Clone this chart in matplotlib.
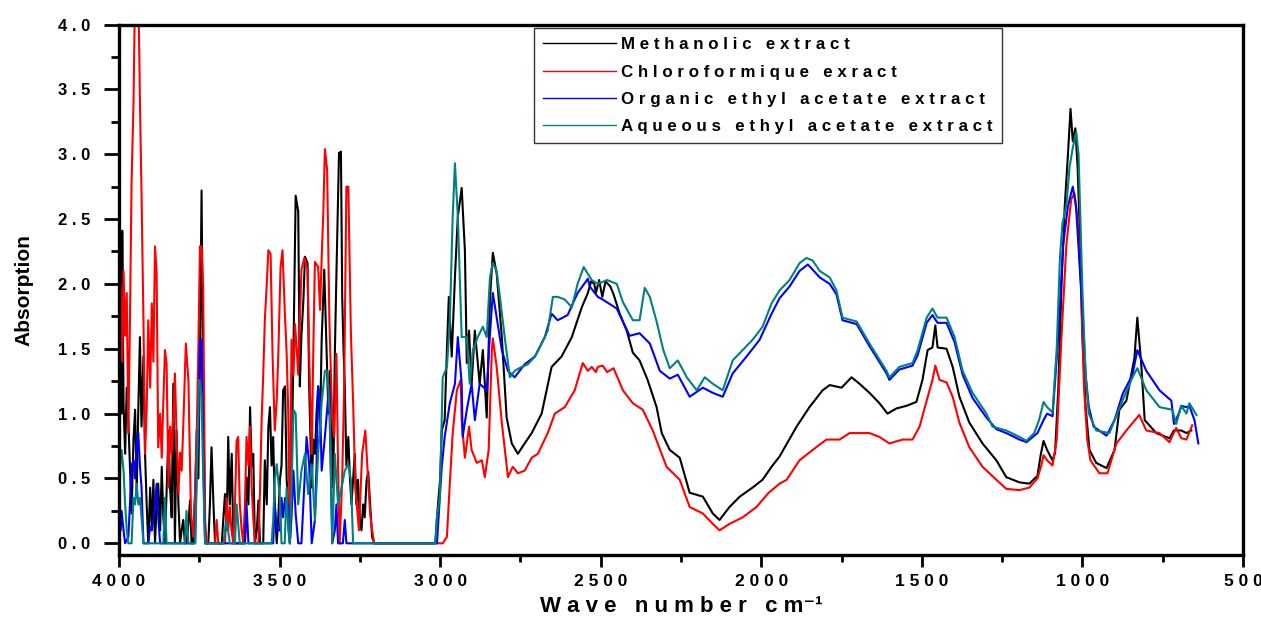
import numpy as np
import matplotlib
matplotlib.use("Agg")
import matplotlib.pyplot as plt
from matplotlib.ticker import MultipleLocator

plt.rcParams['font.family'] = ['Liberation Sans', 'DejaVu Sans']
plt.rcParams['font.weight'] = 'bold'

# (wave number, absorption) pairs
methanolic = [
    (4000, 2.2), (3997, 1.3), (3994, 2.0), (3992, 1.0), (3990, 2.41), (3986, 1.08), (3981, 0.69),
    (3976, 1.2), (3971, 0.95), (3966, 0.6), (3961, 0.23), (3955, 0.8), (3950, 1.03), (3945, 0.4),
    (3940, 1.03), (3935, 1.59), (3930, 0.9), (3924, 1.44), (3919, 0.69), (3914, 0.3), (3909, 0.0),
    (3903, 0.43), (3898, 0.1), (3893, 0.49), (3888, 0.0), (3883, 0.3), (3878, 0.46), (3872, 0.1),
    (3867, 0.59), (3862, 0.2), (3857, 0.0), (3852, 0.4), (3846, 0.87), (3841, 0.43), (3836, 0.2),
    (3831, 1.23), (3826, 0.0), (3821, 0.87), (3815, 0.3), (3810, 0.0), (3805, 0.1), (3800, 0.18),
    (3795, 0.0), (3790, 0.0), (3784, 0.15), (3779, 0.33), (3774, 0.0), (3769, 0.0), (3763, 0.4),
    (3758, 0.87), (3753, 0.5), (3748, 1.46), (3743, 2.72), (3738, 1.21), (3732, 0.0), (3722, 0.0),
    (3717, 0.3), (3712, 0.74), (3706, 0.3), (3701, 0.0), (3680, 0.0), (3675, 0.2), (3670, 0.38),
    (3665, 0.1), (3660, 0.82), (3655, 0.3), (3649, 0.69), (3644, 0.0), (3608, 0.0), (3603, 0.51),
    (3597, 0.3), (3592, 1.05), (3587, 0.6), (3582, 0.69), (3577, 0.0), (3571, 0.1), (3566, 0.33),
    (3561, 0.0), (3551, 0.0), (3546, 0.64), (3540, 0.3), (3535, 0.9), (3530, 1.05), (3525, 0.6),
    (3520, 0.82), (3515, 0.3), (3509, 0.0), (3504, 0.2), (3499, 0.49), (3494, 0.6), (3489, 1.18),
    (3483, 1.21), (3478, 0.49), (3473, 0.3), (3468, 0.0), (3463, 0.5), (3457, 1.46), (3450, 2.68),
    (3442, 2.56), (3437, 1.21), (3432, 1.6), (3426, 1.87), (3421, 2.21), (3413, 2.16), (3408, 1.21),
    (3400, 0.43), (3395, 0.8), (3390, 0.69), (3385, 1.0), (3380, 1.21), (3374, 0.9), (3369, 1.57),
    (3361, 2.11), (3354, 1.51), (3348, 1.0), (3343, 1.33), (3338, 0.9), (3333, 0.43), (3328, 1.46),
    (3323, 2.08), (3315, 3.01), (3309, 3.02), (3305, 1.9), (3301, 1.5), (3297, 1.21), (3292, 0.6),
    (3286, 0.82), (3281, 0.5), (3276, 0.3), (3271, 0.5), (3266, 0.69), (3261, 0.3), (3256, 0.49),
    (3250, 0.18), (3245, 0.1), (3240, 0.3), (3235, 0.2), (3229, 0.49), (3224, 0.55), (3218, 0.3),
    (3212, 0.05), (3205, 0.0), (3015, 0.0),
    (3010, 0.2), (3000, 0.5), (2995, 0.87), (2986, 0.95), (2979, 1.49), (2973, 1.9), (2964, 1.44),
    (2954, 2.05), (2945, 2.52), (2933, 2.74), (2923, 2.26), (2917, 1.39), (2910, 1.64), (2902, 1.23),
    (2892, 1.64), (2877, 1.23), (2867, 1.49), (2855, 0.97), (2845, 1.88), (2836, 2.24), (2824, 2.08),
    (2808, 1.59), (2793, 0.97), (2777, 0.77), (2758, 0.69), (2737, 0.77), (2715, 0.85), (2684, 1.0),
    (2653, 1.36), (2622, 1.44), (2590, 1.59), (2559, 1.82), (2540, 1.93), (2530, 2.02), (2520, 2.0),
    (2515, 1.93), (2505, 2.03), (2495, 1.9), (2485, 2.02), (2470, 1.98), (2460, 1.92), (2441, 1.77),
    (2419, 1.64), (2400, 1.47), (2379, 1.41), (2354, 1.26), (2326, 1.05), (2310, 0.85), (2285, 0.72),
    (2254, 0.66), (2223, 0.39), (2182, 0.36), (2151, 0.23), (2130, 0.18), (2099, 0.28), (2067, 0.36),
    (2027, 0.43), (1996, 0.49), (1968, 0.59), (1943, 0.67), (1890, 0.9), (1850, 1.05), (1809, 1.18),
    (1787, 1.22), (1750, 1.2), (1719, 1.28), (1694, 1.23), (1663, 1.16), (1632, 1.08), (1607, 1.0),
    (1579, 1.04), (1548, 1.06), (1517, 1.09), (1498, 1.26), (1482, 1.49), (1467, 1.51), (1458, 1.68),
    (1451, 1.51), (1423, 1.5), (1404, 1.36), (1383, 1.13), (1352, 0.93), (1311, 0.77), (1268, 0.64),
    (1237, 0.51), (1196, 0.47), (1165, 0.46), (1140, 0.52), (1130, 0.68), (1121, 0.79), (1110, 0.72),
    (1093, 0.64), (1085, 0.7), (1075, 1.2), (1065, 2.0), (1055, 2.6), (1045, 3.0), (1037, 3.35),
    (1030, 3.1), (1022, 3.2), (1015, 2.9), (1008, 2.4), (1000, 1.6), (990, 1.05), (978, 0.72),
    (957, 0.62), (925, 0.58), (900, 0.72), (885, 1.03), (863, 1.1), (838, 1.43), (829, 1.74),
    (817, 1.39), (806, 0.95), (770, 0.85), (729, 0.81), (715, 0.87), (692, 0.87), (676, 0.85),
    (661, 0.87),
]

chloroform = [
    (4000, 1.5), (3995, 2.0), (3990, 1.4), (3986, 2.1), (3981, 1.6), (3976, 1.93), (3971, 0.85),
    (3966, 1.72), (3961, 2.78), (3955, 3.39), (3950, 4.3), (3940, 4.3), (3935, 3.42), (3930, 2.7),
    (3924, 1.72), (3919, 0.69), (3914, 1.03), (3909, 1.72), (3903, 1.2), (3898, 1.85), (3893, 1.4),
    (3888, 2.29), (3883, 2.08), (3878, 0.74), (3872, 1.0), (3867, 0.66), (3862, 1.1), (3857, 1.49),
    (3852, 1.39), (3846, 0.43), (3841, 0.9), (3836, 0.69), (3831, 1.0), (3826, 1.31), (3821, 0.85),
    (3815, 0.38), (3810, 0.7), (3805, 0.56), (3800, 0.9), (3792, 1.54), (3784, 1.26), (3776, 0.23),
    (3769, 0.05), (3763, 0.4), (3758, 0.87), (3753, 1.5), (3748, 2.29), (3743, 2.29), (3738, 1.98),
    (3732, 0.18), (3727, 0.0), (3701, 0.0), (3696, 0.18), (3691, 0.0), (3670, 0.0), (3665, 0.35),
    (3660, 0.1), (3655, 0.28), (3650, 0.1), (3644, 0.0), (3639, 0.3), (3634, 0.79), (3629, 0.82),
    (3624, 0.3), (3618, 0.1), (3613, 0.0), (3608, 0.3), (3603, 0.82), (3597, 0.6), (3592, 0.9),
    (3587, 0.43), (3582, 0.2), (3577, 0.0), (3566, 0.0), (3561, 0.4), (3556, 0.95), (3551, 1.3),
    (3546, 1.72), (3540, 2.0), (3535, 2.26), (3528, 2.23), (3522, 1.46), (3515, 0.87), (3509, 1.1),
    (3504, 1.46), (3497, 2.13), (3491, 2.26), (3484, 1.8), (3478, 1.46), (3473, 1.0), (3468, 0.0),
    (3463, 1.57), (3457, 1.3), (3452, 1.69), (3447, 1.51), (3442, 1.3), (3437, 1.7), (3432, 2.11),
    (3423, 2.2), (3413, 2.11), (3408, 1.46), (3400, 0.69), (3395, 1.5), (3390, 2.17), (3380, 2.13),
    (3374, 1.8), (3369, 2.2), (3364, 2.54), (3359, 3.04), (3352, 2.88), (3345, 1.72), (3336, 0.95),
    (3330, 0.82), (3323, 1.46), (3318, 0.6), (3313, 0.0), (3305, 0.5), (3299, 1.21), (3292, 2.75),
    (3286, 2.75), (3278, 1.62), (3271, 1.08), (3264, 0.43), (3253, 0.1), (3243, 0.69), (3233, 0.87),
    (3226, 0.56), (3218, 0.23), (3212, 0.1), (3205, 0.0), (2992, 0.0),
    (2979, 0.05), (2970, 0.46), (2961, 0.85), (2948, 1.18), (2936, 1.26), (2933, 0.95), (2923, 0.66),
    (2910, 0.9), (2902, 0.72), (2886, 0.62), (2870, 0.64), (2861, 0.51), (2849, 0.72), (2839, 1.49),
    (2836, 1.58), (2824, 1.36), (2808, 0.93), (2789, 0.51), (2774, 0.59), (2758, 0.54), (2737, 0.56),
    (2715, 0.66), (2696, 0.69), (2665, 0.85), (2643, 1.0), (2612, 1.05), (2581, 1.18), (2556, 1.39),
    (2540, 1.33), (2528, 1.36), (2515, 1.32), (2509, 1.36), (2494, 1.37), (2480, 1.32), (2460, 1.35),
    (2431, 1.18), (2400, 1.08), (2369, 1.03), (2338, 0.87), (2295, 0.59), (2254, 0.49), (2223, 0.28),
    (2182, 0.23), (2151, 0.15), (2130, 0.1), (2099, 0.15), (2058, 0.2), (2015, 0.28), (1977, 0.39),
    (1943, 0.46), (1921, 0.49), (1881, 0.64), (1840, 0.72), (1797, 0.8), (1756, 0.8), (1725, 0.85),
    (1663, 0.85), (1632, 0.82), (1601, 0.77), (1560, 0.8), (1529, 0.8), (1507, 0.9), (1485, 1.1),
    (1467, 1.26), (1458, 1.37), (1445, 1.26), (1423, 1.24), (1404, 1.13), (1383, 0.93), (1352, 0.74),
    (1311, 0.59), (1268, 0.49), (1237, 0.42), (1196, 0.41), (1165, 0.43), (1140, 0.5), (1128, 0.6),
    (1121, 0.68), (1110, 0.64), (1093, 0.6), (1080, 0.8), (1065, 1.6), (1050, 2.3), (1035, 2.65),
    (1025, 2.7), (1015, 2.5), (1005, 2.0), (995, 1.2), (985, 0.8), (975, 0.64), (947, 0.54),
    (922, 0.54), (894, 0.77), (863, 0.87), (823, 0.99), (801, 0.87), (760, 0.85), (729, 0.78),
    (708, 0.89), (692, 0.81), (676, 0.8), (658, 0.91),
]

organic_ea = [
    (4000, 0.2), (3995, 0.1), (3992, 0.25), (3986, 0.1), (3981, 0.0), (3971, 0.05), (3966, 0.3),
    (3961, 0.6), (3955, 0.64), (3950, 0.5), (3945, 0.8), (3940, 0.85), (3935, 0.6), (3930, 0.43),
    (3924, 0.0), (3909, 0.0), (3903, 0.13), (3898, 0.1), (3893, 0.18), (3888, 0.3), (3883, 0.46),
    (3878, 0.2), (3872, 0.0), (3763, 0.0), (3758, 0.59), (3753, 0.8), (3748, 1.57), (3743, 1.57),
    (3738, 0.69), (3732, 0.0), (3608, 0.0), (3603, 0.3), (3597, 0.0), (3520, 0.0), (3515, 0.3),
    (3509, 0.1), (3499, 0.1), (3494, 0.35), (3489, 0.2), (3483, 0.35), (3478, 0.3), (3473, 0.3),
    (3468, 0.0), (3463, 0.2), (3457, 0.56), (3450, 0.23), (3442, 0.0), (3432, 0.0), (3426, 0.3),
    (3416, 0.82), (3408, 0.61), (3400, 0.0), (3390, 0.18), (3385, 0.6), (3380, 1.21), (3374, 1.08),
    (3369, 0.56), (3359, 0.82), (3346, 1.21), (3340, 0.5), (3336, 0.0), (3328, 0.1), (3323, 0.3),
    (3318, 0.0), (3303, 0.0), (3297, 0.18), (3292, 0.0), (3010, 0.0),
    (3005, 0.2), (2995, 0.59), (2986, 0.82), (2970, 1.08), (2954, 1.23), (2945, 1.59), (2933, 1.23),
    (2930, 0.82), (2917, 1.03), (2902, 1.23), (2892, 0.95), (2877, 1.23), (2855, 1.18), (2845, 1.61),
    (2836, 1.93), (2824, 1.74), (2808, 1.49), (2789, 1.33), (2768, 1.28), (2737, 1.38), (2705, 1.44),
    (2674, 1.59), (2653, 1.77), (2634, 1.72), (2603, 1.76), (2572, 1.93), (2540, 2.04), (2534, 1.98),
    (2509, 1.9), (2494, 1.88), (2450, 1.81), (2410, 1.6), (2379, 1.62), (2347, 1.54), (2316, 1.33),
    (2285, 1.27), (2260, 1.3), (2223, 1.13), (2182, 1.2), (2151, 1.16), (2120, 1.13), (2089, 1.31),
    (2046, 1.44), (2005, 1.57), (1968, 1.77), (1943, 1.89), (1912, 1.98), (1881, 2.1), (1855, 2.15),
    (1818, 2.05), (1787, 2.0), (1766, 1.92), (1747, 1.72), (1703, 1.69), (1663, 1.52), (1610, 1.31),
    (1601, 1.26), (1570, 1.34), (1529, 1.37), (1513, 1.45), (1485, 1.7), (1467, 1.76), (1451, 1.7),
    (1423, 1.7), (1398, 1.55), (1373, 1.3), (1342, 1.12), (1299, 0.97), (1268, 0.88), (1237, 0.85),
    (1196, 0.8), (1174, 0.78), (1140, 0.85), (1121, 0.95), (1110, 1.0), (1093, 0.98), (1075, 1.6),
    (1060, 2.3), (1045, 2.6), (1030, 2.75), (1020, 2.6), (1010, 2.2), (1000, 1.8), (990, 1.3),
    (980, 1.05), (965, 0.9), (925, 0.83), (900, 0.95), (875, 1.15), (844, 1.3), (829, 1.49),
    (801, 1.33), (760, 1.18), (723, 1.1), (715, 0.92), (700, 1.0), (692, 1.06), (676, 1.05),
    (667, 1.06), (651, 0.95), (639, 0.77),
]

aqueous_ea = [
    (4000, 0.3), (3996, 0.6), (3992, 0.72), (3986, 0.56), (3981, 0.3), (3976, 0.1), (3971, 0.0),
    (3961, 0.0), (3955, 0.35), (3950, 0.3), (3945, 0.46), (3940, 0.3), (3935, 0.35), (3930, 0.2),
    (3924, 0.0), (3862, 0.0), (3857, 0.35), (3852, 0.0), (3795, 0.0), (3790, 0.25), (3784, 0.0),
    (3763, 0.0), (3758, 0.51), (3751, 1.26), (3743, 1.15), (3738, 0.51), (3732, 0.0), (3675, 0.0),
    (3670, 0.1), (3665, 0.18), (3655, 0.0), (3639, 0.0), (3634, 0.3), (3624, 0.0), (3525, 0.0),
    (3520, 0.18), (3515, 0.49), (3509, 0.61), (3499, 0.35), (3494, 0.0), (3484, 0.0), (3478, 0.43),
    (3473, 0.1), (3468, 0.0), (3463, 0.4), (3457, 1.03), (3450, 1.0), (3442, 0.3), (3432, 0.56),
    (3421, 0.69), (3411, 0.38), (3400, 0.61), (3390, 0.18), (3380, 0.69), (3369, 1.08), (3359, 1.33),
    (3351, 1.33), (3343, 0.95), (3336, 0.0), (3328, 0.69), (3318, 0.3), (3307, 0.43), (3297, 0.56),
    (3286, 0.61), (3278, 0.49), (3271, 0.0), (3015, 0.0),
    (3010, 0.2), (3001, 0.36), (2992, 1.28), (2979, 1.36), (2970, 1.7), (2961, 2.52), (2954, 2.93),
    (2945, 2.52), (2933, 1.59), (2917, 1.59), (2908, 1.23), (2898, 1.49), (2883, 1.59), (2867, 1.67),
    (2855, 1.59), (2845, 2.05), (2836, 2.16), (2824, 2.1), (2814, 1.9), (2799, 1.59), (2783, 1.28),
    (2768, 1.33), (2746, 1.36), (2727, 1.38), (2705, 1.44), (2684, 1.54), (2665, 1.64), (2649, 1.9),
    (2634, 1.9), (2612, 1.88), (2590, 1.82), (2572, 2.0), (2553, 2.13), (2528, 2.03), (2509, 2.0),
    (2480, 2.03), (2450, 2.0), (2431, 1.86), (2400, 1.72), (2379, 1.72), (2363, 1.97), (2347, 1.9),
    (2326, 1.71), (2305, 1.49), (2285, 1.35), (2260, 1.41), (2232, 1.28), (2201, 1.18), (2176, 1.28),
    (2151, 1.23), (2120, 1.18), (2089, 1.41), (2058, 1.49), (2027, 1.57), (1996, 1.67), (1968, 1.85),
    (1943, 1.95), (1912, 2.03), (1881, 2.16), (1859, 2.2), (1840, 2.18), (1818, 2.1), (1787, 2.05),
    (1766, 1.95), (1747, 1.74), (1703, 1.71), (1663, 1.54), (1610, 1.33), (1601, 1.28), (1570, 1.36),
    (1529, 1.39), (1513, 1.49), (1485, 1.74), (1467, 1.81), (1451, 1.74), (1423, 1.74), (1398, 1.59),
    (1373, 1.33), (1342, 1.16), (1299, 1.0), (1280, 0.9), (1237, 0.87), (1196, 0.82), (1174, 0.79),
    (1150, 0.85), (1135, 0.95), (1121, 1.09), (1110, 1.05), (1093, 1.01), (1080, 1.5), (1070, 2.2),
    (1062, 2.47), (1050, 2.6), (1040, 2.9), (1030, 3.05), (1019, 3.17), (1012, 3.0), (1005, 2.4),
    (1000, 1.95), (990, 1.3), (980, 1.0), (957, 0.87), (916, 0.85), (875, 1.1), (844, 1.28),
    (829, 1.35), (801, 1.18), (760, 1.05), (720, 1.03), (708, 0.92), (692, 1.06), (676, 1.0),
    (667, 1.08), (645, 0.99),
]

series_names = ["M e t h a n o l i c   e x t r a c t",
                "C h l o r o f o r m i q u e   e x r a c t",
                "O r g a n i c   e t h y l   a c e t a t e   e x t r a c t",
                "A q u e o u s   e t h y l   a c e t a t e   e x t r a c t"]
series_colors = ["#000000", "#ff0000", "#0000ff", "#008080"]

x_ticks = [4000, 3500, 3000, 2500, 2000, 1500, 1000, 500]
y_ticks = [0.0, 0.5, 1.0, 1.5, 2.0, 2.5, 3.0, 3.5, 4.0]

fig = plt.figure(figsize=(12.61, 6.21), dpi=100)
ax = fig.add_axes([0.0944, 0.1063, 0.8913, 0.8542])

for data, name, color in zip([methanolic, chloroform, organic_ea, aqueous_ea],
                             series_names, series_colors):
    wn, ab = np.array(data).T
    ax.plot(wn, ab, color=color, lw=1.5, label=name)

ax.set_xlim(4000, 500)
ax.set_ylim(-0.09, 4.0)

# spaced-out tick labels
ax.set_xticks(x_ticks)
ax.set_xticklabels([" ".join(str(v)) for v in x_ticks], fontsize=12.5, fontweight='bold')
ax.set_yticks(y_ticks)
ax.set_yticklabels([" ".join(f"{v:.1f}") for v in y_ticks], fontsize=12, fontweight='bold')
ax.xaxis.set_minor_locator(MultipleLocator(250))
ax.yaxis.set_minor_locator(MultipleLocator(0.25))

ax.tick_params(axis='x', which='major', direction='out', length=8.5, width=2, pad=5)
ax.tick_params(axis='x', which='minor', direction='out', length=5, width=2)
ax.tick_params(axis='y', which='major', direction='out', length=10.5, width=2, pad=10)
ax.tick_params(axis='y', which='minor', direction='out', length=6, width=2)
ax.tick_params(top=False, right=False, which='both')
for s in ax.spines.values():
    s.set_linewidth(2.4)

ax.set_xlabel("W a v e   n u m b e r   c m⁻¹", fontsize=16, fontweight='bold', labelpad=5)
ax.set_ylabel("Absorption", fontsize=15, fontweight='bold', labelpad=18)

leg = ax.legend(loc='upper left', bbox_to_anchor=(0.369, 0.9934), borderaxespad=0,
                fancybox=False, edgecolor='black', handlelength=4.3, handletextpad=0.3,
                borderpad=0.55, labelspacing=0.72, prop={'size': 12.2, 'weight': 'bold'})
leg.get_frame().set_linewidth(1.0)
for line in leg.get_lines():
    line.set_linewidth(1.0)

fig.savefig("out.png", dpi=100)
